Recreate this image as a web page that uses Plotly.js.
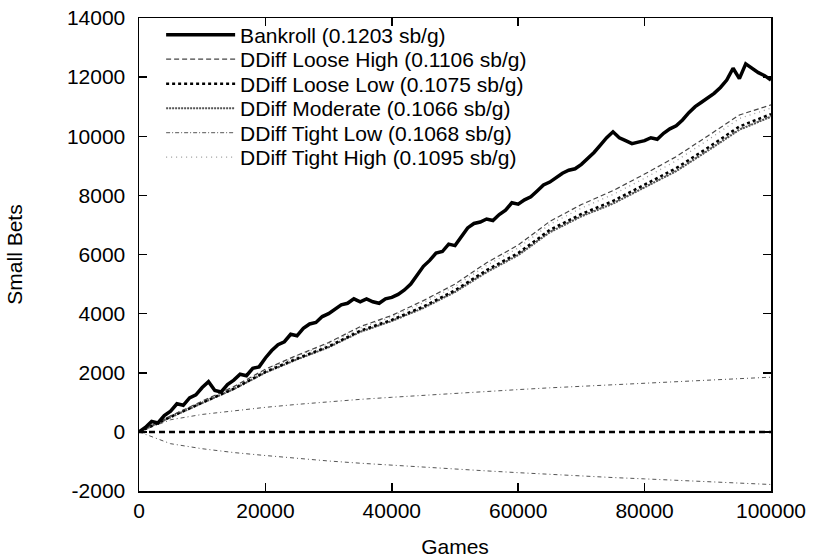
<!DOCTYPE html>
<html><head><meta charset="utf-8">
<script src="https://cdn.plot.ly/plotly-3.0.1.min.js"></script>
<style>html,body{margin:0;padding:0;background:#fff}#chart{width:815px;height:560px}</style>
</head><body><div id="chart"></div>
<script>
// Games axis for the bankroll (every 1000 games)
const gamesFine = [0,1000,2000,3000,4000,5000,6000,7000,8000,9000,10000,11000,12000,13000,14000,15000,16000,17000,18000,19000,20000,21000,22000,23000,24000,25000,26000,27000,28000,29000,30000,31000,32000,33000,34000,35000,36000,37000,38000,39000,40000,41000,42000,43000,44000,45000,46000,47000,48000,49000,50000,51000,52000,53000,54000,55000,56000,57000,58000,59000,60000,61000,62000,63000,64000,65000,66000,67000,68000,69000,70000,71000,72000,73000,74000,75000,76000,77000,78000,79000,80000,81000,82000,83000,84000,85000,86000,87000,88000,89000,90000,91000,92000,93000,94000,95000,96000,97000,98000,99000,100000];
const bankroll = [0,150,350,300,550,700,950,900,1150,1250,1500,1700,1400,1350,1600,1750,1950,1900,2150,2200,2500,2750,2950,3050,3300,3250,3500,3650,3700,3900,4000,4150,4300,4350,4500,4400,4500,4400,4350,4500,4550,4650,4800,5000,5300,5600,5800,6050,6100,6350,6300,6600,6900,7050,7100,7200,7150,7350,7500,7750,7700,7850,7950,8150,8350,8450,8600,8750,8850,8900,9050,9250,9450,9700,9950,10150,9950,9850,9750,9800,9850,9950,9900,10100,10250,10350,10550,10800,11000,11150,11300,11450,11650,11900,12300,11950,12450,12300,12150,12050,11900];

// Games axis for the smoother curves (every 5000 games)
const gamesCoarse = [0,5000,10000,15000,20000,25000,30000,35000,40000,45000,50000,55000,60000,65000,70000,75000,80000,85000,90000,95000,100000];
const ddiffLooseHigh = [0,540,1040,1530,2120,2590,3020,3560,3940,4440,5000,5720,6320,7120,7690,8160,8720,9310,10010,10720,11060];
const ddiffLooseLow  = [0,510,990,1460,2030,2480,2890,3420,3790,4240,4790,5470,6050,6830,7370,7810,8360,8920,9610,10330,10750];
const ddiffModerate  = [0,500,975,1445,2005,2450,2860,3380,3750,4190,4730,5400,5980,6750,7290,7720,8260,8820,9510,10220,10660];
const ddiffTightLow  = [0,505,980,1450,2010,2460,2870,3390,3760,4200,4750,5420,6000,6770,7310,7740,8280,8840,9530,10240,10680];
const ddiffTightHigh = [0,530,1020,1510,2090,2560,2980,3510,3890,4370,4920,5630,6220,7020,7570,8030,8580,9170,9870,10600,10950];
const upperBand = [0,410,590,720,830,930,1020,1100,1170,1240,1305,1370,1430,1490,1545,1600,1650,1700,1750,1800,1850];
const zeroLine  = [0,0,0,0,0,0,0,0,0,0,0,0,0,0,0,0,0,0,0,0,0];
const lowerBand = [0,-400,-570,-700,-800,-900,-985,-1060,-1130,-1195,-1260,-1320,-1380,-1440,-1490,-1545,-1590,-1640,-1690,-1735,-1780];

const seriesNames = ["Bankroll (0.1203 sb/g)","DDiff Loose High (0.1106 sb/g)","DDiff Loose Low (0.1075 sb/g)","DDiff Moderate (0.1066 sb/g)","DDiff Tight Low (0.1068 sb/g)","DDiff Tight High (0.1095 sb/g)"];
const xTickVals = [0,20000,40000,60000,80000,100000];
const xTickText = ["0","20000","40000","60000","80000","100000"];
const yTickVals = [-2000,0,2000,4000,6000,8000,10000,12000,14000];
const yTickText = ["-2000","0","2000","4000","6000","8000","10000","12000","14000"];

const FONT = "'Liberation Sans', Arial, Helvetica, sans-serif";

const traces = [
  {x: gamesCoarse, y: upperBand, mode:'lines', showlegend:false, hoverinfo:'skip',
   line:{color:'#555', width:1, dash:'4px,3px,1px,3px'}},
  {x: gamesCoarse, y: zeroLine, mode:'lines', showlegend:false, hoverinfo:'skip',
   line:{color:'#000', width:2.5, dash:'6px,4px'}},
  {x: gamesCoarse, y: lowerBand, mode:'lines', showlegend:false, hoverinfo:'skip',
   line:{color:'#555', width:1, dash:'4px,3px,1px,3px'}},
  {x: gamesCoarse, y: ddiffTightHigh, mode:'lines', name: seriesNames[5], legend:'legend6',
   line:{color:'#999', width:1.3, dash:'1px,4px'}},
  {x: gamesCoarse, y: ddiffTightLow, mode:'lines', name: seriesNames[4], legend:'legend5',
   line:{color:'#777', width:1.3, dash:'4px,2px,1px,2px'}},
  {x: gamesCoarse, y: ddiffModerate, mode:'lines', name: seriesNames[3], legend:'legend4',
   line:{color:'#555', width:2, dash:'2px,1px'}},
  {x: gamesCoarse, y: ddiffLooseLow, mode:'lines', name: seriesNames[2], legend:'legend3',
   line:{color:'#000', width:2.5, dash:'3px,3px'}},
  {x: gamesCoarse, y: ddiffLooseHigh, mode:'lines', name: seriesNames[1], legend:'legend2',
   line:{color:'#444', width:1.2, dash:'5px,3px'}},
  {x: gamesFine, y: bankroll, mode:'lines', name: seriesNames[0], legend:'legend',
   line:{color:'#000', width:3.5}}
];

function leg(y){
  return {x:0.035, y:y, xanchor:'left', yanchor:'middle', bgcolor:'rgba(0,0,0,0)',
    borderwidth:0, itemwidth:69, font:{family:FONT, size:21, color:'#000'}};
}

const axisCommon = {
  showgrid:false, zeroline:false, showline:true, linecolor:'#000', linewidth:1.5,
  ticks:'inside', ticklen:8, tickwidth:1.5, tickcolor:'#000', mirror:'ticks',
  tickfont:{family:FONT, size:21, color:'#000'}
};

const layout = {
  width:815, height:560,
  margin:{l:139, r:44, t:18, b:69},
  paper_bgcolor:'#fff', plot_bgcolor:'#fff',
  font:{family:FONT, size:21, color:'#000'},
  xaxis: Object.assign({}, axisCommon, {range:[0,100000], tickvals:xTickVals, ticktext:xTickText,
    ticklabelstandoff:0,
    title:{text:'Games', font:{family:FONT, size:21, color:'#000'}, standoff:18}}),
  yaxis: Object.assign({}, axisCommon, {range:[-2000,14000], tickvals:yTickVals, ticktext:yTickText,
    ticklabelstandoff:8,
    title:{text:'Small Bets', font:{family:FONT, size:21, color:'#000'}, standoff:38}}),
  showlegend:true,
  legend: leg(0.9641),
  legend2: leg(0.9123),
  legend3: leg(0.8605),
  legend4: leg(0.8087),
  legend5: leg(0.7569),
  legend6: leg(0.7051)
};

Plotly.newPlot('chart', traces, layout, {displayModeBar:false, staticPlot:true});
</script>
</body></html>
